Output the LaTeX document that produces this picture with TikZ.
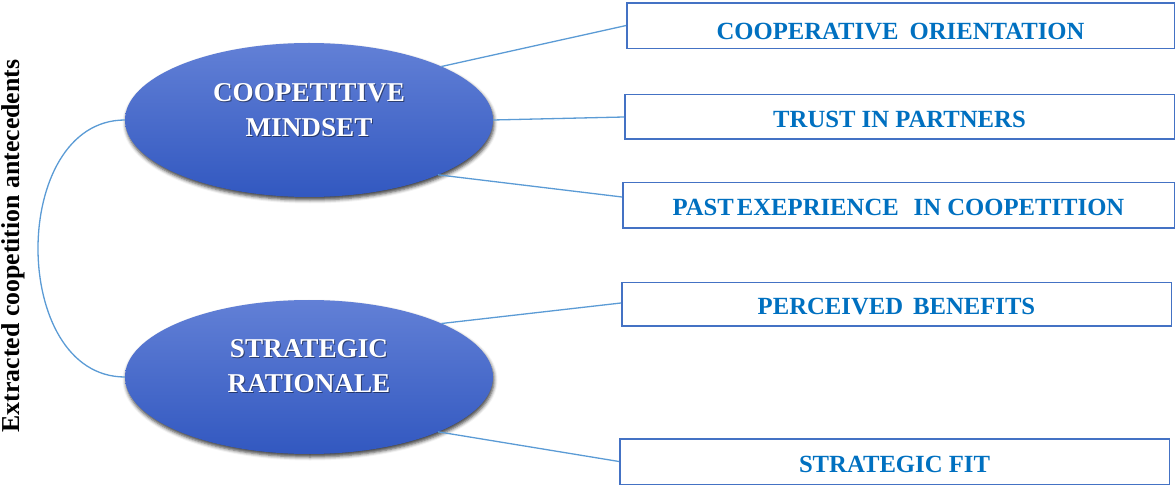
\documentclass[tikz,border=0pt]{standalone}
\usepackage{fontspec}
\setmainfont{Liberation Serif}
\usetikzlibrary{shapes.geometric,shadows.blur}
\definecolor{boxline}{RGB}{68,114,196}
\definecolor{boxtext}{RGB}{0,112,192}
\definecolor{connc}{RGB}{91,155,213}
\definecolor{elltop}{RGB}{98,128,214}
\definecolor{ellbot}{RGB}{50,88,192}
\begin{document}
\begin{tikzpicture}[x=1pt,y=-1pt,
  ell/.style={ellipse, minimum width=368pt, minimum height=154pt, inner sep=0pt, outer sep=0pt,
    top color=elltop, bottom color=ellbot,
    blur shadow={shadow xshift=1pt, shadow yshift=-3pt, shadow blur radius=3.5pt, shadow opacity=75}},
  elltext/.style={align=center, text=white, font=\bfseries\fontsize{27.2}{35}\selectfont, inner sep=0pt},
  elltextsh/.style={elltext, text=black, opacity=0.45},
  box/.style={draw=boxline, line width=1.5pt, rectangle, inner sep=0pt, minimum height=0pt,
    text=boxtext, font=\bfseries\fontsize{24.7}{30}\selectfont, anchor=base},
  link/.style={draw=connc, line width=1.3pt},
  side/.style={font=\bfseries\fontsize{25.8}{30}\selectfont, rotate=90, anchor=base, inner sep=0pt}
]
\useasboundingbox (0,0) rectangle (1176,486);

% ellipses
\node[ell] (e1) at (309,120) {};
\node[ell] (e2) at (309,377) {};

% ellipse texts
\node[elltextsh] (t1s) at (310,111.5) {COOPETITIVE\\MINDSET};
\node[elltext] (t1) at (309,110.5) {COOPETITIVE\\MINDSET};
\node[elltextsh] (t2s) at (310,367.5) {STRATEGIC\\RATIONALE};
\node[elltext] (t2) at (309,366.5) {STRATEGIC\\RATIONALE};

% boxes
\node[box, minimum width=547.5pt, text height=36.5pt, text depth=9pt] (b1) at (900.5,39.3)
  {COOPERATIVE\hspace{0.45em}ORIENTATION};
\node[box, minimum width=549.5pt, text height=33.25pt, text depth=11.25pt] (b2) at (899.5,128)
  {TRUST IN PARTNERS};
\node[box, minimum width=551.5pt, text height=33.25pt, text depth=12.25pt] (b3) at (898.5,216)
  {PAST\hspace{0.12em}EXEPRIENCE\hspace{0.6em}IN COOPETITION};
\node[box, minimum width=549.5pt, text height=32.25pt, text depth=11.25pt] (b4) at (896.5,315)
  {PERCEIVED\hspace{0.4em}BENEFITS};
\node[box, minimum width=549.5pt, text height=33.25pt, text depth=12.25pt] (b5) at (894.5,472)
  {STRATEGIC FIT};

% connectors
\draw[link] (e1.22) -- (b1.west);
\draw[link] (e1.east) -- (b2.west);
\draw[link] (e1.-23) -- ([yshift=8.5pt]b3.west);
\draw[link] (e2.22) -- ([yshift=1.5pt]b4.west);
\draw[link] (e2.-23) -- (b5.west);

% bracket curve
\draw[link] (e1.west) .. controls ([xshift=-116pt]e1.west) and ([xshift=-116pt]e2.west) .. (e2.west);

% side label
\node[side] (side) at (19.5,246) {Extracted coopetition antecedents};
\end{tikzpicture}
\end{document}
